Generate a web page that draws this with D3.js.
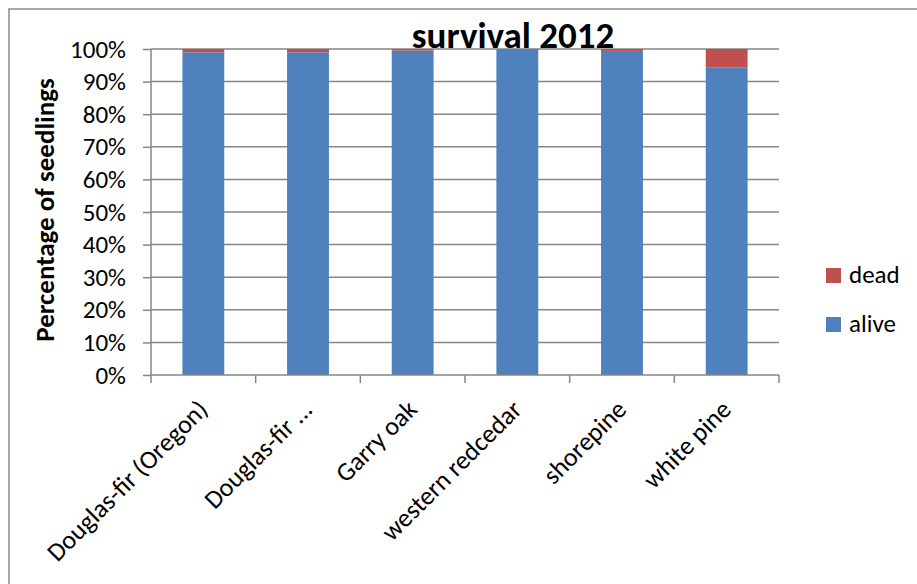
<!DOCTYPE html>
<html>
<head>
<meta charset="utf-8">
<script src="https://cdn.jsdelivr.net/npm/d3@7"></script>
<style>
  body { margin: 0; background: #fff; }
  text { font-family: Carlito, Lato, "Open Sans", sans-serif; fill: #000; }
</style>
</head>
<body>
<svg id="chart" width="917" height="584"></svg>
<script>
var categories = ["Douglas-fir (Oregon)", "Douglas-fir ...", "Garry oak", "western redcedar", "shorepine", "white pine"];
var alive = [99.0, 99.0, 99.5, 100, 99.4, 94.4];
var dead = [1.0, 1.0, 0.5, 0, 0.6, 5.6];
var yTicks = [0, 10, 20, 30, 40, 50, 60, 70, 80, 90, 100];
var seriesNames = ["alive", "dead"];
var colors = { alive: "#4f81bd", dead: "#c0504d" };

var svg = d3.select("#chart");
var plotLeft = 151, plotRight = 779, plotTop = 49, plotBottom = 375;
var gray = "#868686";

// outer frame (top and left edges visible)
svg.append("path")
    .attr("d", "M9,584 V9 H917")
    .attr("fill", "none")
    .attr("stroke", "#8c8c8c")
    .attr("stroke-width", 1.5);

var x = d3.scaleBand().domain(categories).range([plotLeft, plotRight]).paddingInner(0.6).paddingOuter(0.3);
var y = d3.scaleLinear().domain([0, 100]).range([plotBottom, plotTop]);

// gridlines
svg.append("g")
    .selectAll("line")
    .data(yTicks.slice(1))
    .enter()
    .append("line")
    .attr("x1", plotLeft).attr("x2", plotRight)
    .attr("y1", function (d) { return y(d); })
    .attr("y2", function (d) { return y(d); })
    .attr("stroke", gray)
    .attr("stroke-width", 1.5);

// stacked bars
var rows = categories.map(function (c, i) { return { cat: c, alive: alive[i], dead: dead[i] }; });
var stack = d3.stack().keys(seriesNames)(rows);

svg.append("g")
    .selectAll("g")
    .data(stack)
    .enter()
    .append("g")
    .attr("fill", function (s) { return colors[s.key]; })
    .selectAll("rect")
    .data(function (s) { return s; })
    .enter()
    .append("rect")
    .attr("x", function (d) { return x(d.data.cat); })
    .attr("width", x.bandwidth())
    .attr("y", function (d) { return y(d[1]); })
    .attr("height", function (d) { return y(d[0]) - y(d[1]); });

// y axis
var yAxis = svg.append("g")
    .attr("transform", "translate(" + plotLeft + ",0)")
    .call(d3.axisLeft(y).tickValues(yTicks).tickSize(8).tickPadding(17)
        .tickFormat(function (d) { return d + "%"; }));
yAxis.selectAll("line, path").attr("stroke", gray).attr("stroke-width", 1.5);
yAxis.select(".domain").attr("d", "M0," + plotTop + "V" + plotBottom);
yAxis.selectAll("text").attr("font-size", 25).attr("font-family", null);

// x axis (ticks at category boundaries)
var step = x.step();
var bounds = d3.range(categories.length + 1).map(function (i) { return plotLeft + i * step; });
var xAxis = svg.append("g");
xAxis.append("line")
    .attr("x1", plotLeft).attr("x2", plotRight).attr("y1", plotBottom).attr("y2", plotBottom)
    .attr("stroke", gray).attr("stroke-width", 1.5);
xAxis.selectAll(".tick")
    .data(bounds)
    .enter()
    .append("line")
    .attr("x1", function (d) { return d; }).attr("x2", function (d) { return d; })
    .attr("y1", plotBottom).attr("y2", plotBottom + 8)
    .attr("stroke", gray).attr("stroke-width", 1.5);

svg.append("g")
    .selectAll("text")
    .data(categories)
    .enter()
    .append("text")
    .attr("transform", function (d) {
        return "translate(" + (x(d) + x.bandwidth() / 2 + 6) + "," + (plotBottom + 36) + ") rotate(-45)";
    })
    .attr("text-anchor", "end")
    .attr("font-size", 26)
    .text(function (d) { return d; });

// y axis title
svg.append("text")
    .attr("transform", "translate(54,210) rotate(-90)")
    .attr("text-anchor", "middle")
    .attr("font-size", 27)
    .attr("font-weight", "bold")
    .text("Percentage  of seedlings");

// chart title
svg.append("text")
    .attr("x", 513).attr("y", 48)
    .attr("text-anchor", "middle")
    .attr("font-size", 37)
    .attr("font-weight", "bold")
    .text("survival 2012");

// legend
var legend = svg.append("g")
    .selectAll("g")
    .data(["dead", "alive"])
    .enter()
    .append("g")
    .attr("transform", function (d, i) { return "translate(826," + (268 + i * 49) + ")"; });
legend.append("rect")
    .attr("width", 15).attr("height", 15)
    .attr("fill", function (d) { return colors[d]; });
legend.append("text")
    .attr("x", 23).attr("y", 15)
    .attr("font-size", 25)
    .text(function (d) { return d; });
</script>
</body>
</html>
